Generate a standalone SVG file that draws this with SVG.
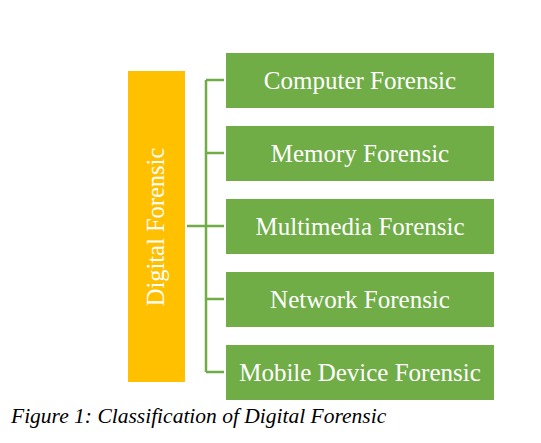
<svg xmlns="http://www.w3.org/2000/svg" width="541" height="443" viewBox="0 0 541 443">
<style>
.box{fill:#70AD47;}
.lbl{font-family:"Liberation Serif",serif;font-size:25px;fill:#ffffff;text-anchor:middle;}
.con{stroke:#70AD47;stroke-width:2.5;fill:none;}
</style>
<rect width="541" height="443" fill="#ffffff"/>
<g id="root">
<rect x="128" y="71" width="57" height="311" fill="#FFC000"/>
<text class="lbl" style="font-size:24.5px" transform="translate(163.5,227) rotate(-90)">Digital Forensic</text>
</g>
<g id="connectors">
<path class="con" d="M206,80 V372 M206,80 H224 M206,153 H224 M187,226 H224 M206,299 H224 M206,372 H224"/>
</g>
<g id="n1"><rect class="box" x="226" y="53" width="268" height="55"/><text class="lbl" x="360" y="88.5">Computer Forensic</text></g>
<g id="n2"><rect class="box" x="226" y="126" width="268" height="55"/><text class="lbl" x="360" y="161.5">Memory Forensic</text></g>
<g id="n3"><rect class="box" x="226" y="199" width="268" height="55"/><text class="lbl" x="360" y="234.5">Multimedia Forensic</text></g>
<g id="n4"><rect class="box" x="226" y="272" width="268" height="55"/><text class="lbl" x="360" y="307.5">Network Forensic</text></g>
<g id="n5"><rect class="box" x="226" y="345" width="268" height="55"/><text class="lbl" x="360" y="380.5">Mobile Device Forensic</text></g>
<text x="11" y="423" font-family="Liberation Serif, serif" font-style="italic" font-size="21.5" fill="#000000">Figure 1: Classification of Digital Forensic</text>
</svg>
